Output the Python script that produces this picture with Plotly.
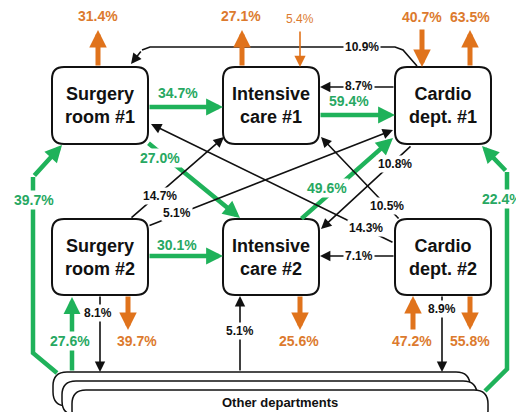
import plotly.graph_objects as go

# ---------------- data ----------------
NODE_LABELS = ["Surgery<br>room #1", "Intensive<br>care #1", "Cardio<br>dept. #1",
               "Surgery<br>room #2", "Intensive<br>care #2", "Cardio<br>dept. #2"]
OTHER_LABEL = "Other departments"

# main (green) transfers
GREEN_LABELS = ["34.7%", "59.4%", "30.1%", "27.0%", "49.6%", "39.7%", "22.4%", "27.6%"]
# admissions / discharges (orange)
ORANGE_LABELS = ["31.4%", "27.1%", "5.4%", "40.7%", "63.5%", "39.7%", "25.6%", "47.2%", "55.8%"]
# minor transfers (black)
BLACK_LABELS = ["10.9%", "8.7%", "14.7%", "5.1%", "10.8%", "10.5%", "14.3%", "7.1%", "8.1%", "5.1%", "8.9%"]

# ---------------- layout geometry (page pixels) ----------------
W, H = 524, 412
PAGE_MARGIN = 8  # default body margin of the html page
BOXES = [(52, 67, 148, 144), (223, 67, 319, 144), (395, 67, 491, 144),
         (52, 219, 148, 295), (223, 219, 319, 295), (395, 219, 491, 295)]

# each arrow: polyline points (tail ... head), label position, whether label has white bg
GREEN_GEOM = [
    ([(148, 107), (223, 107)], (178, 93), False),
    ([(319, 115), (395, 115)], (349, 101), False),
    ([(148, 256), (223, 256)], (177, 245), False),
    ([(147, 142), (240, 218)], (160, 158), True),
    ([(300, 220), (393, 138)], (327, 188), True),
    ([(57, 373), (33, 353), (33, 177), (62, 145)], (34, 200), True),
    ([(485, 391), (507, 369), (507, 172), (482, 146)], (502, 199), True),
    ([(72, 372), (72, 297)], (70, 341), True),
]
ORANGE_GEOM = [
    ([(98, 67), (98, 30)], (98, 16), 5),
    ([(242, 67), (242, 30)], (241, 16), 5),
    ([(300, 30), (300, 67)], (300, 19), 1.6),
    ([(422, 28), (422, 67)], (422, 17), 5),
    ([(470, 67), (470, 30)], (470, 17), 5),
    ([(128, 295), (128, 330)], (137, 341), 5),
    ([(300, 295), (300, 330)], (299, 341), 5),
    ([(413, 331), (413, 296)], (412, 341), 5),
    ([(470, 295), (470, 330)], (470, 341), 5),
]
BLACK_GEOM = [
    ([(417, 66), (403, 50), (395, 47), (150, 47), (142, 50), (131, 64)], (362, 47)),
    ([(395, 87), (320, 87)], (359, 86)),
    ([(130, 219), (224, 137)], (160, 196)),
    ([(148, 226), (393, 130)], (177, 213)),
    ([(412, 145), (321, 229)], (395, 164)),
    ([(400, 220), (321, 137)], (387, 206)),
    ([(394, 243), (151, 124)], (366, 228)),
    ([(395, 256), (320, 256)], (359, 256)),
    ([(100, 295), (100, 372)], (98, 313)),
    ([(240, 372), (240, 296)], (240, 331)),
    ([(442, 295), (442, 372)], (442, 309)),
]

GREEN = "#1fb25a"
GREEN_TXT = "#27a862"
ORANGE = "#e0731c"
ORANGE_TXT = "#dc7a2e"
BLACK = "#111111"
FONT = "Liberation Sans, Arial, sans-serif"

fig = go.Figure()
shapes = []
annotations = []


def rounded(x0, y0, x1, y1, r):
    return (f"M{x0+r},{y0} H{x1-r} Q{x1},{y0} {x1},{y0+r} V{y1-r} Q{x1},{y1} {x1-r},{y1} "
            f"H{x0+r} Q{x0},{y1} {x0},{y1-r} V{y0+r} Q{x0},{y0} {x0+r},{y0} Z")


# other departments stack (back to front)
for (x0, y0, x1) in [(53, 372, 470), (62, 381, 477), (72, 390, 488)]:
    shapes.append(dict(type="path", path=rounded(x0, y0, x1, y0 + 34, 14), xref="x", yref="y",
                       fillcolor="white", line=dict(color=BLACK, width=1.5), layer="below"))
annotations.append(dict(x=280, y=402, text=f"<b>{OTHER_LABEL}</b>", showarrow=False,
                        font=dict(family=FONT, size=13, color=BLACK), xref="x", yref="y"))

# node boxes
for (x0, y0, x1, y1), lab in zip(BOXES, NODE_LABELS):
    shapes.append(dict(type="path", path=rounded(x0, y0, x1, y1, 12), xref="x", yref="y",
                       fillcolor="white", line=dict(color=BLACK, width=2), layer="below"))
    annotations.append(dict(x=(x0 + x1) / 2, y=(y0 + y1) / 2, text=f"<b>{lab}</b>", showarrow=False,
                            font=dict(family=FONT, size=18, color=BLACK), xref="x", yref="y"))


def draw_arrow(pts, color, width, size):
    if len(pts) > 2:
        xs = [p[0] for p in pts[:-1]]
        ys = [p[1] for p in pts[:-1]]
        fig.add_trace(go.Scatter(x=xs, y=ys, mode="lines", hoverinfo="skip", showlegend=False,
                                 line=dict(color=color, width=width)))
    (ax, ay), (x, y) = pts[-2], pts[-1]
    annotations.append(dict(x=x, y=y, ax=ax, ay=ay, xref="x", yref="y", axref="x", ayref="y",
                            text="", showarrow=True, arrowhead=2, arrowsize=size, arrowwidth=width,
                            arrowcolor=color, standoff=0, startstandoff=0, font=dict(size=1)))


def label(pos, text, color, size, bg, bold=True):
    t = f"<b>{text}</b>" if bold else text
    d = dict(x=pos[0], y=pos[1], text=t, showarrow=False, xref="x", yref="y",
             font=dict(family=FONT, size=size, color=color), borderpad=1)
    if bg:
        d["bgcolor"] = "white"
    annotations.append(d)


for (pts, lpos, bg), lab in zip(GREEN_GEOM, GREEN_LABELS):
    draw_arrow(pts, GREEN, 4.5, 0.75)
    label(lpos, lab, GREEN_TXT, 14, bg)

for (pts, lpos, w), lab in zip(ORANGE_GEOM, ORANGE_LABELS):
    if w < 3:
        draw_arrow(pts, ORANGE, w, 1.4)
        label(lpos, lab, ORANGE_TXT, 12, False, bold=False)
    else:
        draw_arrow(pts, ORANGE, w, 0.7)
        label(lpos, lab, ORANGE_TXT, 14, False)

for (pts, lpos), lab in zip(BLACK_GEOM, BLACK_LABELS):
    draw_arrow(pts, BLACK, 1.6, 1.3)
    label(lpos, lab, BLACK, 12, True)

fig.update_layout(
    width=W - PAGE_MARGIN, height=H - PAGE_MARGIN, margin=dict(l=0, r=0, t=0, b=0),
    paper_bgcolor="white", plot_bgcolor="white",
    xaxis=dict(range=[PAGE_MARGIN, W], visible=False, fixedrange=True),
    yaxis=dict(range=[H, PAGE_MARGIN], visible=False, fixedrange=True),
    shapes=shapes, annotations=annotations, showlegend=False,
)
fig.write_html("out.html")
